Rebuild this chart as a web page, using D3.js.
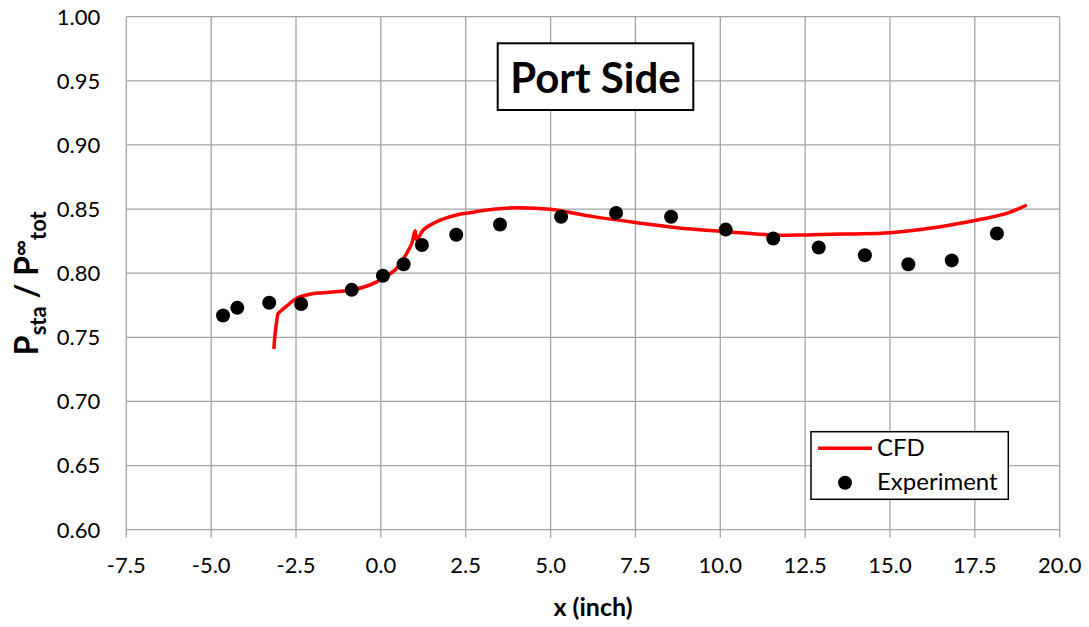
<!DOCTYPE html>
<html>
<head>
<meta charset="utf-8">
<script src="https://cdn.jsdelivr.net/npm/d3@7"></script>
<style>
  body { margin: 0; background: #fff; }
  svg { font-family: Lato, "Open Sans", sans-serif; }
</style>
</head>
<body>
<svg id="chart"></svg>
<script>
const width = 1089, height = 627;
const margin = { top: 16.7, right: 29.3, bottom: 97.3, left: 126.3 };
const lineColor = "#ff0000", gridColor = "#a3a3a3";

// experiment points
const expX = [-4.65, -4.23, -3.29, -2.35, -0.86, 0.06, 0.67, 1.21, 2.22, 3.51, 5.31, 6.93, 8.55, 10.16, 11.56, 12.90, 14.26, 15.54, 16.82, 18.15];
const expY = [0.767, 0.773, 0.777, 0.776, 0.787, 0.798, 0.807, 0.822, 0.830, 0.838, 0.844, 0.847, 0.844, 0.834, 0.827, 0.820, 0.814, 0.807, 0.810, 0.831];

// CFD curve
const cfdX = [-3.15, -3.12, -3.06, -3.03, -2.95, -2.77, -2.48, -2.09, -1.70, -0.87, -0.32, 0.07, 0.47, 0.76, 0.91, 1.01, 1.06, 1.25, 1.65, 2.23, 2.63, 3.31, 4.00, 4.98, 6.26, 7.54, 8.72, 10.19, 11.56, 12.55, 13.82, 15.00, 16.48, 17.46, 18.44, 19.03];
const cfdY = [0.741, 0.752, 0.764, 0.7685, 0.7705, 0.7745, 0.7805, 0.7836, 0.7848, 0.7869, 0.7908, 0.796, 0.8038, 0.8155, 0.8233, 0.8331, 0.8259, 0.8337, 0.8402, 0.8454, 0.8472, 0.8498, 0.8511, 0.8498, 0.8441, 0.8394, 0.8355, 0.8324, 0.8298, 0.8298, 0.8306, 0.8316, 0.8363, 0.8409, 0.8467, 0.8532];

const xTicks = [-7.5, -5.0, -2.5, 0.0, 2.5, 5.0, 7.5, 10.0, 12.5, 15.0, 17.5, 20.0];
const yTicks = [0.60, 0.65, 0.70, 0.75, 0.80, 0.85, 0.90, 0.95, 1.00];

const svg = d3.select("#chart").attr("width", width).attr("height", height);
const iw = width - margin.left - margin.right,
  ih = height - margin.top - margin.bottom;

const x = d3.scaleLinear().domain([-7.5, 20]).range([margin.left, margin.left + iw]);
const y = d3.scaleLinear().domain([0.6, 1.0]).range([margin.top + ih, margin.top]);

// gridlines
svg.append("g").selectAll("line")
  .data(yTicks)
  .enter().append("line")
  .attr("x1", margin.left).attr("x2", margin.left + iw)
  .attr("y1", d => y(d)).attr("y2", d => y(d))
  .attr("stroke", gridColor).attr("stroke-width", 1.3);
svg.append("g").selectAll("line")
  .data(xTicks)
  .enter().append("line")
  .attr("x1", d => x(d)).attr("x2", d => x(d))
  .attr("y1", margin.top).attr("y2", margin.top + ih + 8)
  .attr("stroke", gridColor).attr("stroke-width", 1.3);

// tick labels
svg.append("g").selectAll("text")
  .data(yTicks)
  .enter().append("text")
  .attr("x", margin.left - 26)
  .attr("y", d => y(d))
  .attr("dy", "0.36em")
  .attr("text-anchor", "end")
  .attr("font-size", 22)
  .attr("fill", "#000")
  .text(d => d.toFixed(2));
svg.append("g").selectAll("text")
  .data(xTicks)
  .enter().append("text")
  .attr("x", d => x(d))
  .attr("y", 573)
  .attr("text-anchor", "middle")
  .attr("font-size", 22)
  .attr("fill", "#000")
  .text(d => d.toFixed(1));

// axis titles
svg.append("text")
  .attr("x", x(6.25)).attr("y", 616)
  .attr("text-anchor", "middle")
  .attr("font-size", 25).attr("font-weight", "bold")
  .text("x (inch)");

let yt = svg.append("text")
  .attr("transform", `translate(38, ${y(0.8) + 10}) rotate(-90)`)
  .attr("text-anchor", "middle")
  .attr("font-size", 32).attr("font-weight", "bold");
yt.append("tspan").text("P");
yt.append("tspan").attr("font-size", 22).attr("dy", 8).text("sta");
yt.append("tspan").attr("dy", -8).text(" / P");
yt.append("tspan").attr("font-size", 22).attr("dy", -10).text("∞");
yt.append("tspan").attr("font-size", 22).attr("dy", 18).text("tot");

// CFD line
const cfd = cfdX.map((d, i) => [d, cfdY[i]]);
const line = d3.line()
  .x(d => x(d[0]))
  .y(d => y(d[1]))
  .curve(d3.curveCatmullRom.alpha(0.5));
svg.append("path")
  .datum(cfd)
  .attr("d", line)
  .attr("fill", "none")
  .attr("stroke", lineColor)
  .attr("stroke-width", 3.5)
  .attr("stroke-linejoin", "round");

// experiment markers
svg.append("g").selectAll("circle")
  .data(expX.map((d, i) => [d, expY[i]]))
  .enter().append("circle")
  .attr("cx", d => x(d[0]))
  .attr("cy", d => y(d[1]))
  .attr("r", 7)
  .attr("fill", "#000");

// title box
const tb = svg.append("g");
tb.append("rect")
  .attr("x", 497.7).attr("y", 43.3)
  .attr("width", 195.6).attr("height", 66.7)
  .attr("fill", "#fff").attr("stroke", "#000").attr("stroke-width", 2);
tb.append("text")
  .attr("x", 595.5).attr("y", 93.3)
  .attr("text-anchor", "middle")
  .attr("font-size", 42).attr("font-weight", "bold")
  .text("Port Side");

// legend
const lg = svg.append("g");
lg.append("rect")
  .attr("x", 811).attr("y", 431.7)
  .attr("width", 197.3).attr("height", 67.6)
  .attr("fill", "#fff").attr("stroke", "#000").attr("stroke-width", 1.5);
lg.append("line")
  .attr("x1", 818).attr("x2", 872).attr("y1", 448.3).attr("y2", 448.3)
  .attr("stroke", lineColor).attr("stroke-width", 3.5);
lg.append("text").attr("x", 877).attr("y", 456)
  .attr("font-size", 24).text("CFD");
lg.append("circle").attr("cx", 845).attr("cy", 482.7).attr("r", 7).attr("fill", "#000");
lg.append("text").attr("x", 877).attr("y", 490)
  .attr("font-size", 24).text("Experiment");
</script>
</body>
</html>
